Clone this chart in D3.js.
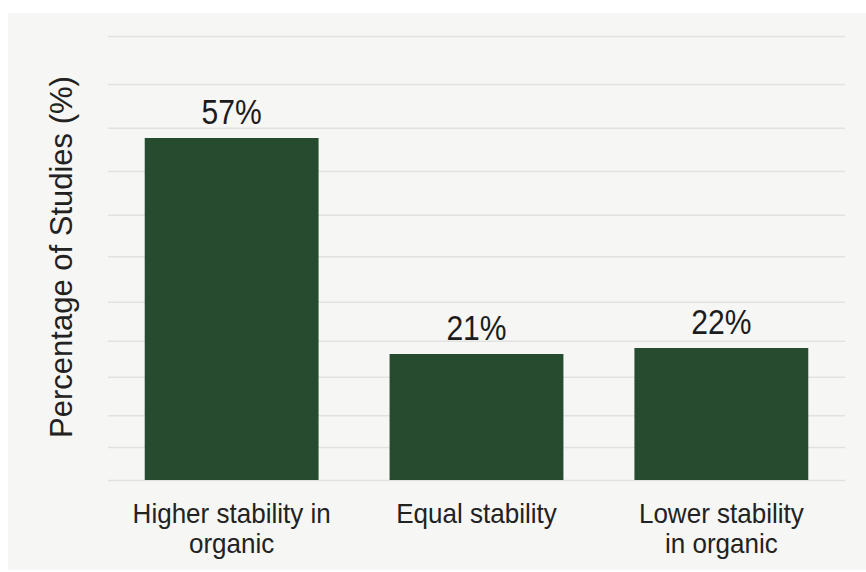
<!DOCTYPE html>
<html>
<head>
<meta charset="utf-8">
<script src="https://cdn.jsdelivr.net/npm/d3@7"></script>
<style>
  html, body { margin: 0; padding: 0; background: #ffffff; }
  text { font-family: "Liberation Sans", Arial, Helvetica, sans-serif; }
</style>
</head>
<body>
<div id="chart"></div>
<script>
// data
const categories = ["Higher stability in\norganic", "Equal stability", "Lower stability\nin organic"];
const values = [57, 21, 22];
const gridValues = [0, 5.5, 10.8, 17.2, 23.2, 29.7, 37.3, 44.2, 51.5, 58.7, 66, 74];

const width = 866, height = 572;
const margin = {top: 36, right: 21, bottom: 92, left: 108};
const innerWidth = width - margin.left - margin.right;
const innerHeight = height - margin.top - margin.bottom;

const root = d3.select("#chart")
    .append("svg")
    .attr("width", width)
    .attr("height", height);

// light panel behind the chart
root.append("rect")
    .attr("x", 8)
    .attr("y", 13)
    .attr("width", width - 8)
    .attr("height", height - 15)
    .attr("fill", "#f6f6f4");

const svg = root.append("g")
    .attr("transform", `translate(${margin.left},${margin.top})`);

const xScale = d3.scaleBand()
    .domain(categories)
    .range([0, innerWidth])
    .paddingInner(0.29)
    .paddingOuter(0.15);

const yScale = d3.scaleLinear()
    .domain([0, 74])
    .range([innerHeight, 0]);

// gridlines
svg.append("g")
    .attr("class", "grid")
    .call(d3.axisLeft(yScale).tickValues(gridValues).tickSize(-innerWidth).tickFormat(""))
    .call(g => g.select(".domain").remove())
    .call(g => g.selectAll(".tick line")
        .attr("stroke", "#e1e1df")
        .attr("stroke-width", 1.6));

// bars
svg.append("g")
    .selectAll("rect")
    .data(values)
    .join("rect")
    .attr("x", (d, i) => xScale(categories[i]))
    .attr("y", d => yScale(d))
    .attr("width", xScale.bandwidth())
    .attr("height", d => innerHeight - yScale(d))
    .attr("fill", "#264b2f");

// value labels (narrow, like the original)
svg.append("g")
    .selectAll("text")
    .data(values)
    .join("text")
    .attr("transform", (d, i) =>
        `translate(${xScale(categories[i]) + xScale.bandwidth() / 2},${yScale(d) - 14}) scale(0.86,1)`)
    .attr("text-anchor", "middle")
    .style("font-size", "35px")
    .style("fill", "#1c1c1c")
    .text(d => `${d}%`);

// category labels
const xLabels = svg.append("g")
    .selectAll("text")
    .data(categories)
    .join("text")
    .attr("transform", d => `translate(${xScale(d) + xScale.bandwidth() / 2},${innerHeight + 43}) scale(0.93,1)`)
    .attr("text-anchor", "middle")
    .style("font-size", "28px")
    .style("fill", "#222");

xLabels.selectAll("tspan")
    .data(d => d.split("\n"))
    .join("tspan")
    .attr("x", 0)
    .attr("dy", (d, i) => i === 0 ? 0 : 30)
    .text(d => d);

// y axis title
svg.append("text")
    .attr("transform", "rotate(-90)")
    .attr("x", -(257 - margin.top))
    .attr("y", 72 - margin.left)
    .attr("text-anchor", "middle")
    .style("font-size", "31px")
    .style("fill", "#222")
    .text("Percentage of Studies (%)");
</script>
</body>
</html>
